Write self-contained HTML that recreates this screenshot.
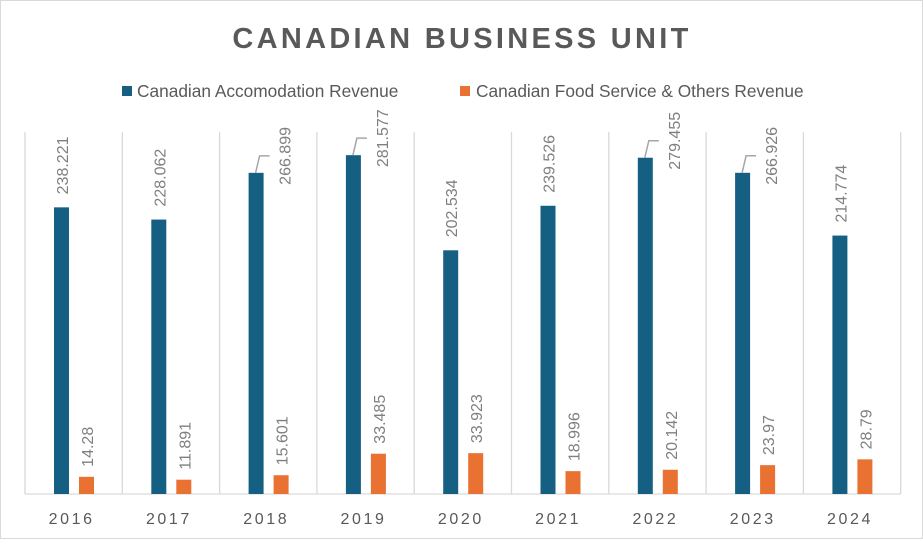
<!DOCTYPE html>
<html><head><meta charset="utf-8"><style>
body{margin:0;background:#fff;font-family:"Liberation Sans",sans-serif}
#c{position:absolute;left:0;top:0;width:921px;height:537px;border:1px solid #d9d9d9}
</style></head><body>
<div id="c">
<svg id="s" width="923" height="539">
<text x="461" y="47" text-anchor="middle" font-size="29" font-weight="bold" fill="#595959" letter-spacing="3.3">CANADIAN BUSINESS UNIT</text>
<g>
<rect x="121" y="85" width="10" height="10" fill="#156082"/>
<text x="136" y="96" font-size="17.3" fill="#595959">Canadian Accomodation Revenue</text>
<rect x="459" y="85" width="10" height="10" fill="#e97132"/>
<text x="475" y="96" font-size="17.3" fill="#595959">Canadian Food Service &amp; Others Revenue</text>
</g>
<g id="plot"></g>
</svg></div>
<script>
const categories=["2016","2017","2018","2019","2020","2021","2022","2023","2024"];
const accomValues=[238.221,228.062,266.899,281.577,202.534,239.526,279.455,266.926,214.774];
const foodValues=[14.28,11.891,15.601,33.485,33.923,18.996,20.142,23.97,28.79];
const NS="http://www.w3.org/2000/svg";
const g=document.getElementById('plot');
const x0=24,cw=97.3,base=493,yMax=300,ph=361;
const y=v=>base-v/yMax*ph;
const cx=i=>x0+cw*i;
function mk(t,a){const e=document.createElementNS(NS,t);for(const k in a)e.setAttribute(k,a[k]);g.appendChild(e);return e;}
for(let i=0;i<=categories.length;i++){
 const l=mk('line',{x1:cx(i),x2:cx(i),y1:131,y2:base,stroke:'#d9d9d9','stroke-width':1.3});
 
 
}
const ax=mk('line',{x1:x0,x2:cx(categories.length),y1:base,y2:base,stroke:'#d9d9d9','stroke-width':1.3});


function label(txt,xr,bottom,nm){
 const t=mk('text',{x:0,y:0,'font-size':16,fill:'#7f7f7f','text-anchor':'start',transform:`translate(${xr},${bottom}) rotate(-90)`});
 t.textContent=txt;
 
 
}
categories.forEach((c,i)=>{
 const bx=cx(i)+29, ox=cx(i)+54;
 const ty=y(accomValues[i]);
 const b=mk('rect',{x:bx,y:ty,width:15,height:base-ty,fill:'#156082'});
 
 
 const oy=y(foodValues[i]);
 const o=mk('rect',{x:ox,y:oy,width:15,height:base-oy,fill:'#e97132'});
 
 
 let bottom=ty-13, xr=bx+14;
 if(bottom-58<125){
  bottom=ty+12; xr=bx+42;
  const p=mk('polyline',{points:`${bx+7},${ty} ${bx+11},${ty-17} ${bx+21},${ty-17}`,fill:'none',stroke:'#a6a6a6','stroke-width':1.5});
  
  
 }
 label(String(accomValues[i]),xr,bottom,'label-accommodation-'+c);
 label(String(foodValues[i]),ox+14,oy-10,'label-food-'+c);
 const t=mk('text',{x:cx(i)+cw/2-2,y:523,'text-anchor':'middle','font-size':16,fill:'#595959','letter-spacing':'2.6'});
 t.textContent=c;
 
 
});
</script>
</body></html>
